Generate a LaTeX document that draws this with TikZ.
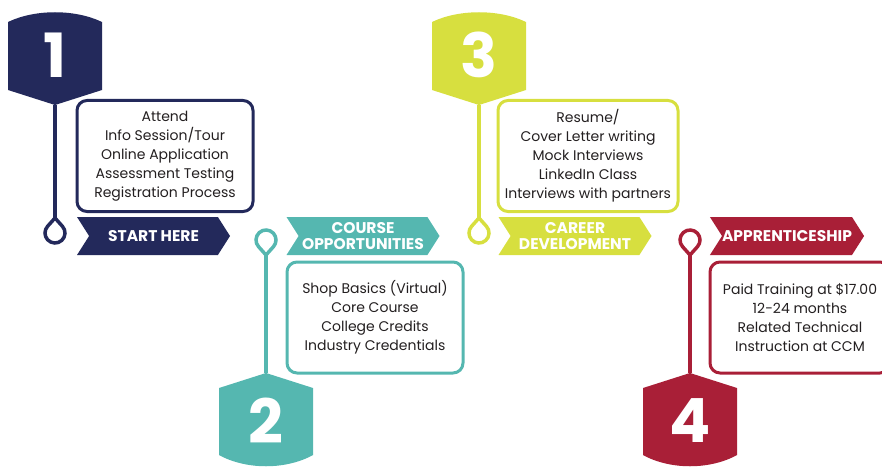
\documentclass[tikz,border=0pt]{standalone}
\usepackage{fontspec}
\setmainfont{Poppins}
\usepackage{tikz}
\usetikzlibrary{shapes.symbols}
\definecolor{stepnavy}{HTML}{23295B}
\definecolor{stepteal}{HTML}{55B7B0}
\definecolor{steplime}{HTML}{D7DF3F}
\definecolor{stepred}{HTML}{A91F37}
\definecolor{bodytext}{HTML}{231F20}
\tikzset{
    infobox/.style={draw,line width=3pt,rounded corners=10pt,minimum width=176pt,minimum height=111pt,inner sep=0pt,align=center,text=bodytext,font=\fontsize{14}{19}\selectfont},
    banner/.style={signal,signal from=west,signal to=east,signal pointer angle=115,minimum width=153pt,minimum height=38pt,inner sep=0pt,align=center,text=white,font=\bfseries\fontsize{15.5}{16}\selectfont},
    bignum/.style={inner sep=0pt,text=white,font=\bfseries\fontsize{61}{61}\selectfont},
    pinline/.style={line width=3.5pt},
    pinstem/.style={line width=4pt}
}
\begin{document}
\begin{tikzpicture}[x=1pt,y=-1pt]
\clip (0,0) rectangle (882,468);

\foreach \n/\x/\col in {1/55/stepnavy,3/479/steplime}{
    \fill[\col] (\x-47,90) -- (\x-47,22) .. controls (\x-20,9) and (\x+20,9) .. (\x+47,22) -- (\x+47,90) -- (\x,105) -- cycle;
    \node[bignum] (num\n) at (\x,55) {\n};
    \coordinate (tip\n) at (\x,105);
    \coordinate (pin\n) at (\x,233);
    \draw[pinline,\col] (pin\n) ++(318:10) arc[start angle=318,end angle=582,radius=10] -- ([yshift=15pt]pin\n) -- cycle;
    \draw[pinstem,\col] (tip\n) -- ([yshift=15pt]pin\n);
}
\foreach \n/\x/\col in {2/266/stepteal,4/690/stepred}{
    \fill[\col] (\x-47,388) -- (\x,373) -- (\x+47,388) -- (\x+47,455) .. controls (\x+20,470) and (\x-20,470) .. (\x-47,455) -- cycle;
    \node[bignum] (num\n) at (\x,421) {\n};
    \coordinate (tip\n) at (\x,373);
    \coordinate (pin\n) at (\x,240);
    \draw[pinline,\col] (pin\n) ++(138:10) arc[start angle=138,end angle=402,radius=10] -- ([yshift=-15pt]pin\n) -- cycle;
    \draw[pinstem,\col] ([yshift=-15pt]pin\n) -- (tip\n);
}

\node[infobox,draw=stepnavy] (box1) at (165,156) {Attend\\Info Session/Tour\\Online Application\\Assessment Testing\\Registration Process};
\node[infobox,draw=stepteal] (box2) at (375,317.5) {Shop Basics (Virtual)\\Core Course\\College Credits\\Industry Credentials};
\node[infobox,draw=steplime,minimum width=180pt] (box3) at (588,156) {Resume/\\Cover Letter writing\\Mock Interviews\\LinkedIn Class\\Interviews with partners};
\node[infobox,draw=stepred,minimum width=180pt] (box4) at (800,317.5) {Paid Training at \$17.00\\12-24 months\\Related Technical\\Instruction at CCM};

\node[banner,fill=stepnavy] (start) at (153.5,236) {START HERE};
\node[banner,fill=stepteal] (course) at (363,236) {COURSE\\OPPORTUNITIES};
\node[banner,fill=steplime] (career) at (575,236) {CAREER\\DEVELOPMENT};
\node[banner,fill=stepred] (appr) at (787,236) {APPRENTICESHIP};
\end{tikzpicture}
\end{document}
